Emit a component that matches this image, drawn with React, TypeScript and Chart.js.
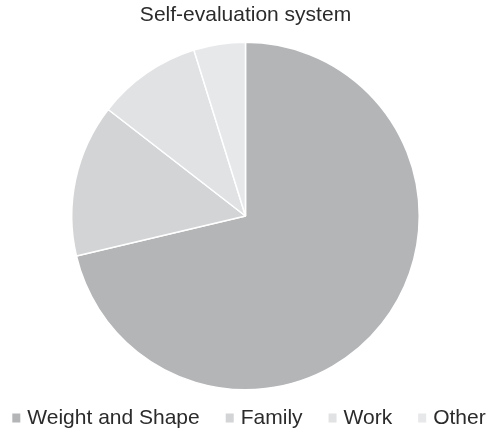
import React, { useEffect, useRef } from "react";
import { Chart, registerables } from "chart.js";

Chart.register(...registerables);

const categories = ["Weight and Shape", "Family", "Work", "Other"];
const values = [71.3, 14.2, 9.7, 4.8];
const colors = ["#b4b5b7", "#d3d4d6", "#e1e2e4", "#e7e8ea"];
const titleText = "Self-evaluation system";

const FONT = "'Liberation Sans', Arial, Helvetica, sans-serif";

const customLegend = {
  id: "customLegend",
  afterDraw(chart: any) {
    const ctx = chart.ctx as CanvasRenderingContext2D;
    ctx.save();
    ctx.font = `21px ${FONT}`;
    ctx.textBaseline = "middle";
    ctx.textAlign = "left";
    const box = 8;
    const gapBox = 7;
    const gapItem = 26;
    const widths = categories.map((c) => ctx.measureText(c).width);
    const total =
      widths.reduce((a, b) => a + b, 0) + categories.length * (box + gapBox) + (categories.length - 1) * gapItem;
    let x = 249 - total / 2;
    const y = 418;
    categories.forEach((c, i) => {
      ctx.fillStyle = colors[i];
      ctx.fillRect(x, y - 4.5, box, 9);
      x += box + gapBox;
      ctx.fillStyle = "#2b2b2b";
      ctx.fillText(c, x, y);
      x += widths[i] + gapItem;
    });
    ctx.restore();
  },
};

export default function App() {
  const ref = useRef<HTMLCanvasElement | null>(null);
  useEffect(() => {
    document.body.style.margin = "0";
    if (!ref.current) return;
    const chart = new Chart(ref.current, {
      type: "pie",
      data: {
        labels: categories,
        datasets: [
          {
            data: values,
            backgroundColor: colors,
            borderColor: "#ffffff",
            borderWidth: 1.5,
          },
        ],
      },
      options: {
        animation: false,
        responsive: false,
        layout: { padding: { left: 4, right: 0, top: 0, bottom: 40.5 } },
        plugins: {
          legend: { display: false },
          tooltip: { enabled: false },
          title: {
            display: true,
            text: titleText,
            color: "#2b2b2b",
            font: { family: FONT, size: 21, weight: "normal" },
            padding: { top: 3, bottom: 13.3 },
          },
        },
      },
      plugins: [customLegend],
    });
    return () => chart.destroy();
  }, []);
  return (
    <div style={{ position: "absolute", left: 0, top: 0, width: 487, height: 431, background: "#fff" }}>
      <canvas ref={ref} width={487} height={431} style={{ width: 487, height: 431, display: "block" }} />
    </div>
  );
}
